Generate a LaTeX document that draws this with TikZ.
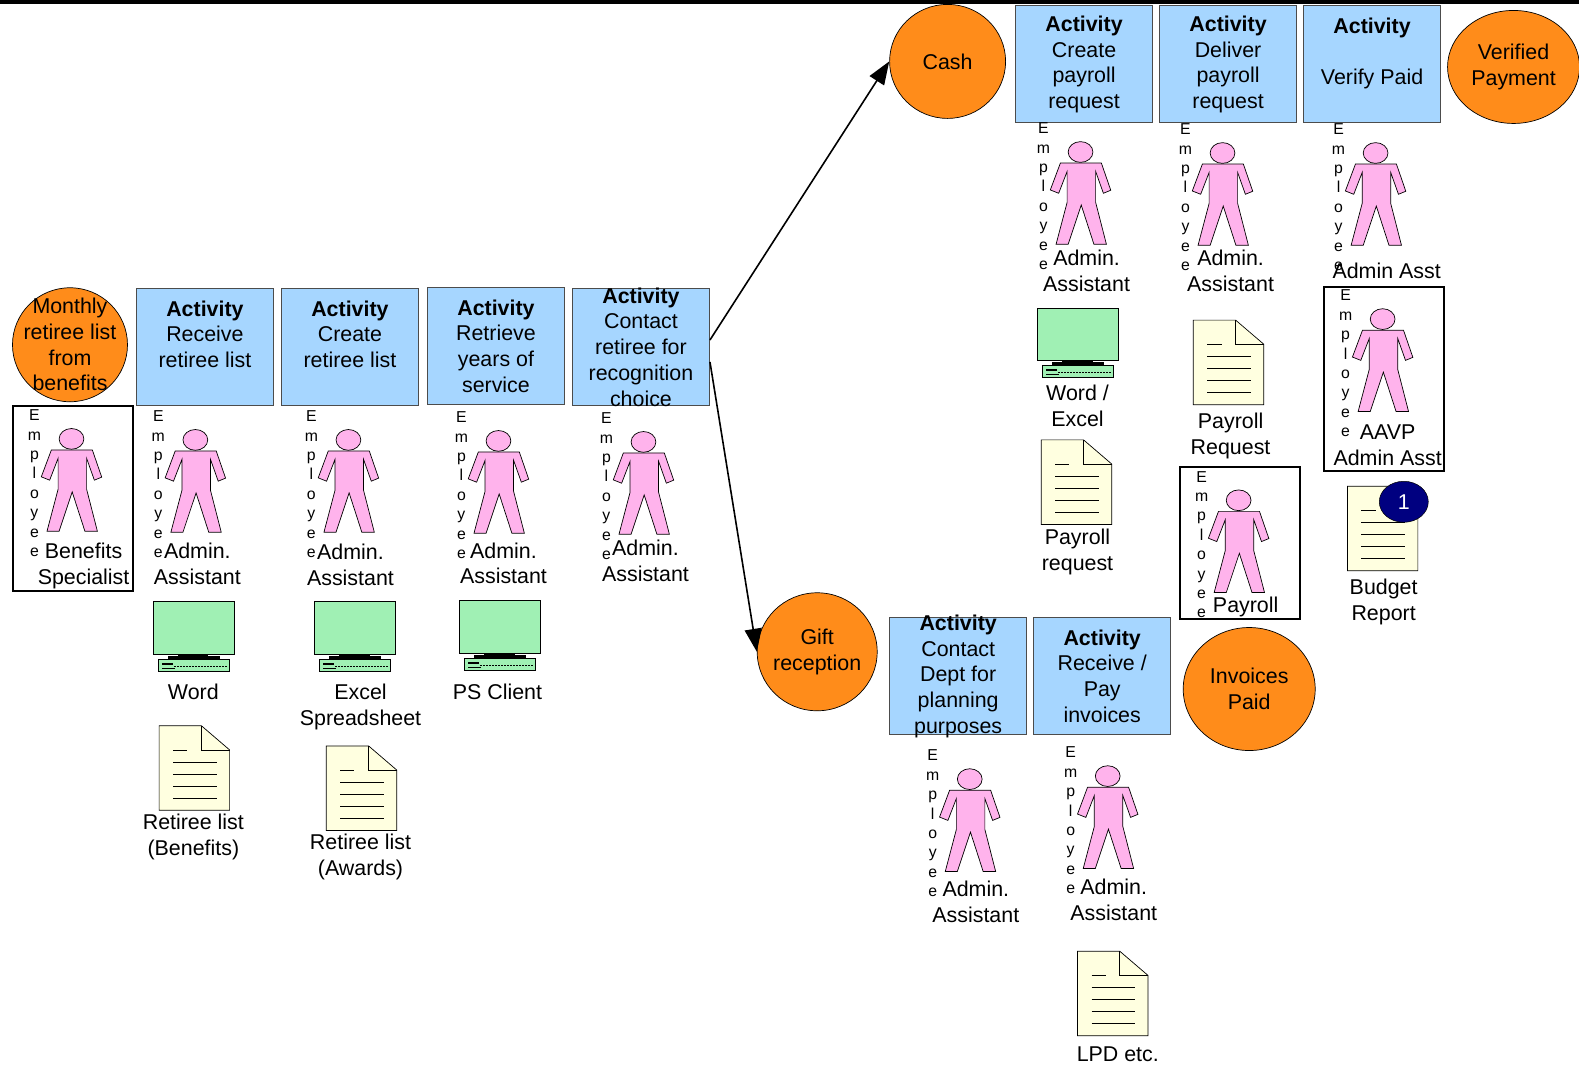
\documentclass[tikz,border=0pt]{standalone}
\usepackage{fontspec}
\setmainfont{Liberation Sans}
\usetikzlibrary{arrows.meta,shapes.geometric}
\definecolor{boxblue}{HTML}{A6D6FF}
\definecolor{discorange}{HTML}{FF8C1A}
\definecolor{bodypink}{HTML}{FFB3EC}
\definecolor{screengreen}{HTML}{A0F0B4}
\definecolor{pageyellow}{HTML}{FFFFE0}
\definecolor{badgenavy}{HTML}{000080}
\tikzset{
  every node/.style={font=\fontsize{21.4}{25.7}\selectfont},
  activity/.style={draw=black!70, line width=1pt, fill=boxblue, minimum width=137pt, minimum height=117pt, align=center, inner xsep=0pt, inner ysep=-8pt},
  disc/.style={ellipse, draw=black, line width=0.7pt, fill=discorange, align=center, inner sep=-12pt},
  lbl/.style={align=center, inner sep=0pt},
  frame/.style={draw=black, line width=1.8pt},
  flow/.style={-{Triangle[length=23pt,width=17pt]}, line width=1.6pt},
  badge/.style={ellipse, draw=black, line width=0.5pt, fill=badgenavy, text=white, minimum width=49pt, minimum height=41pt, inner sep=0pt},
  person/.pic={
    \draw[fill=bodypink, line width=0.7pt] (-20,11) -- (20.7,11) -- (30,38) -- (22.7,41) -- (15,19.3) -- (15,50) -- (25.7,91.7) -- (13.3,91.7) -- (0.7,52.7) -- (-12.3,91.7) -- (-24.3,91.7) -- (-13.3,50) -- (-13.3,19.3) -- (-21.7,41) -- (-30,37.7) -- cycle;
    \draw[fill=bodypink, line width=0.7pt] (0,0) ellipse [x radius=12.3, y radius=10.3];
    \node[lbl, font=\fontsize{15.8}{19.4}\selectfont] (-emp) at (-36.8,44) {E\\m\\p\\l\\o\\y\\e\\e};
  },
  monitor/.pic={
    \draw[fill=screengreen, line width=1pt] (0,0) rectangle (81,52);
    \fill (25,52) rectangle (55,56);
    \fill (15,54) rectangle (66,57);
    \draw[fill=screengreen, line width=1pt] (5,57) rectangle (76,69);
    \fill (9,61) rectangle (20,63);
    \draw[line width=1.6pt, dash pattern=on 1.5pt off 1.5pt] (21,64) -- (74,64);
    \draw[line width=0.7pt] (9,66) -- (22,66);
  },
  doc/.pic={
    \draw[fill=pageyellow, line width=0.7pt] (0,0) -- (42,0) -- (70,24) -- (70,84) -- (0,84) -- cycle;
    \draw[line width=0.7pt] (42,0) -- (42,24) -- (70,24);
    \draw[line width=0.6pt] (14,24) -- (28,24);
    \foreach \dy in {36,48,60,72}
      \draw[line width=0.6pt] (14,\dy) -- (57,\dy);
  },
}
\begin{document}
\begin{tikzpicture}[x=1.00702pt, y=-1.0066pt]
  \useasboundingbox (0,0) rectangle (1568,1063);
  \fill (0,0) rectangle (1568,4);
  % left row
  \node[disc, minimum width=115pt, minimum height=114pt] (monthly) at (69.5,342.5) {Monthly\\retiree list\\from\\benefits};
  \node[activity] (receive) at (203.5,344.7) {\textbf{Activity}\\Receive\\retiree list\\~};
  \node[activity] (create) at (347.5,344.7) {\textbf{Activity}\\Create\\retiree list\\~};
  \node[activity] (retrieve) at (492.5,343.7) {\textbf{Activity}\\Retrieve\\years of\\service};
  \node[activity] (contact) at (636.5,344.7) {\textbf{Activity}\\Contact\\retiree for\\recognition\\choice};
  % top row
  \node[disc, minimum width=116pt, minimum height=114pt] (cash) at (941,61) {Cash};
  \node[activity] (payreq) at (1076.5,64) {\textbf{Activity}\\Create\\payroll\\request};
  \node[activity] (deliver) at (1219.5,64) {\textbf{Activity}\\Deliver\\payroll\\request};
  \node[activity] (verify) at (1362.5,63.5) {\textbf{Activity}\\~\\Verify Paid\\~};
  \node[disc, minimum width=132pt, minimum height=113pt] (verified) at (1503,66.5) {Verified\\Payment};
  % bottom row
  \node[disc, minimum width=120pt, minimum height=118pt] (gift) at (811.5,647.5) {Gift\\reception};
  \node[activity] (dept) at (951.5,672) {\textbf{Activity}\\Contact\\Dept for\\planning\\purposes};
  \node[activity] (invoices) at (1094.5,671.5) {\textbf{Activity}\\Receive /\\Pay\\invoices};
  \node[disc, minimum width=132pt, minimum height=123pt] (paid) at (1240.5,684.5) {Invoices\\Paid};
  % people
  \foreach \name/\px/\py in {pa/71/436, pb/194/437, pc/346/437, pd/495/438, pe/639/439, pf/1073/151, pg/1214/152, ph/1366/152, pi/1373/317, pj/1230/497, pk/963/774, pl/1100/771}
    \pic (\name) at (\px,\py) {person};
  \draw[frame] (13,403) rectangle (132,587);
  \draw[frame] (1315,285) rectangle (1434,468);
  \draw[frame] (1172,464) rectangle (1291,615);
  \node[lbl] (pa-role) at (83,562) {Benefits\\Specialist};
  \node[lbl] (pb-role) at (196,560) {Admin.\\Assistant};
  \node[lbl] (pc-role) at (348,561) {Admin.\\Assistant};
  \node[lbl] (pd-role) at (500,559.5) {Admin.\\Assistant};
  \node[lbl] (pe-role) at (641,557.5) {Admin.\\Assistant};
  \node[lbl] (pf-role) at (1079,269) {Admin.\\Assistant};
  \node[lbl] (pg-role) at (1222,269) {Admin.\\Assistant};
  \node[lbl] (ph-role) at (1377,269) {Admin Asst};
  \node[lbl] (pi-role) at (1378,442) {AAVP\\Admin Asst};
  \node[lbl] (pj-role) at (1237,603) {Payroll};
  \node[lbl] (pk-role) at (969,896) {Admin.\\Assistant};
  \node[lbl] (pl-role) at (1106,894) {Admin.\\Assistant};
  % tools
  \foreach \name/\px/\py in {ma/152/598, mb/312/598, mc/456/597, md/1030/306}
    \pic (\name) at (\px,\py) {monitor};
  \node[lbl] (ma-text) at (192,687) {Word};
  \node[lbl] (mb-text) at (358,702.5) {Excel\\Spreadsheet};
  \node[lbl] (mc-text) at (494,687) {PS Client};
  \node[lbl] (md-text) at (1070,403.5) {Word /\\Excel};
  % documents
  \foreach \name/\px/\py in {da/158/721, db/324/741, dc/1185/318, dd/1034/437, de/1338/483, df/1070/945}
    \pic (\name) at (\px,\py) {doc};
  \node[lbl] (da-text) at (192,831.5) {Retiree list\\(Benefits)};
  \node[lbl] (db-text) at (358,851.5) {Retiree list\\(Awards)};
  \node[lbl] (dc-text) at (1222,433) {Payroll\\Request};
  \node[lbl] (dd-text) at (1070,548) {Payroll\\request};
  \node[lbl] (de-text) at (1374,598) {Budget\\Report};
  \node[lbl] (df-text) at (1110,1047) {LPD etc.};
  \node[badge] (one) at (1394,498.5) {1};
  % arrows
  \draw[flow] ([yshift=7pt]contact.east) -- (cash.west);
  \draw[flow] ([yshift=-15pt]contact.east) -- (gift.west);
\end{tikzpicture}
\end{document}
